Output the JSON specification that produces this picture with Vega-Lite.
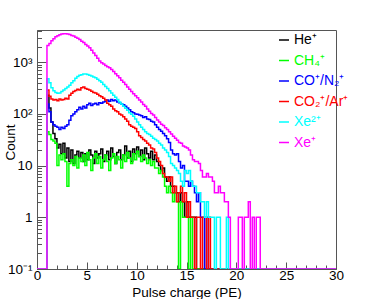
{
  "$schema": "https://vega.github.io/schema/vega-lite/v6.json",
  "width": 299,
  "height": 239,
  "autosize": {"type": "none"},
  "padding": {"left": 37, "top": 30, "right": 38, "bottom": 30},
  "background": "white",
  "config": {"font": "Liberation Sans", "view": {"stroke": "#555", "strokeWidth": 1}},
  "data": {"values": [
    {"x":0,"He":0.1,"CH4":0.1,"CO":0.1,"CO2":0.1,"Xe2":0.1,"Xe":0.1},
    {"x":1.0,"He":230,"CH4":45,"CO":155,"CO2":290,"Xe2":480,"Xe":2100},
    {"x":1.2,"He":130,"CH4":40,"CO":110,"CO2":220,"Xe2":400,"Xe":2300},
    {"x":1.4,"He":70,"CH4":32,"CO":70,"CO2":195,"Xe2":320,"Xe":2600},
    {"x":1.6,"He":42,"CH4":30,"CO":62,"CO2":185,"Xe2":280,"Xe":2850},
    {"x":1.8,"He":33,"CH4":27,"CO":58,"CO2":190,"Xe2":260,"Xe":3100},
    {"x":2.0,"He":22,"CH4":10,"CO":55,"CO2":180,"Xe2":250,"Xe":3250},
    {"x":2.2,"He":26,"CH4":16,"CO":50,"CO2":195,"Xe2":255,"Xe":3400},
    {"x":2.4,"He":17,"CH4":13,"CO":55,"CO2":185,"Xe2":270,"Xe":3500},
    {"x":2.6,"He":27,"CH4":17,"CO":52,"CO2":190,"Xe2":290,"Xe":3550},
    {"x":2.8,"He":14,"CH4":12,"CO":58,"CO2":200,"Xe2":310,"Xe":3550},
    {"x":3.0,"He":22,"CH4":4,"CO":62,"CO2":195,"Xe2":330,"Xe":3500},
    {"x":3.2,"He":12,"CH4":11,"CO":75,"CO2":230,"Xe2":360,"Xe":3450},
    {"x":3.4,"He":20,"CH4":13,"CO":92,"CO2":250,"Xe2":400,"Xe":3300},
    {"x":3.6,"He":11,"CH4":10,"CO":100,"CO2":270,"Xe2":440,"Xe":3200},
    {"x":3.8,"He":16,"CH4":15,"CO":110,"CO2":285,"Xe2":490,"Xe":3050},
    {"x":4.0,"He":19,"CH4":9,"CO":120,"CO2":300,"Xe2":530,"Xe":2900},
    {"x":4.2,"He":14,"CH4":14,"CO":135,"CO2":290,"Xe2":560,"Xe":2750},
    {"x":4.4,"He":18,"CH4":12,"CO":125,"CO2":320,"Xe2":575,"Xe":2550},
    {"x":4.6,"He":12,"CH4":16,"CO":140,"CO2":330,"Xe2":590,"Xe":2400},
    {"x":4.8,"He":17,"CH4":10,"CO":130,"CO2":310,"Xe2":590,"Xe":2200},
    {"x":5.0,"He":13,"CH4":18,"CO":150,"CO2":300,"Xe2":580,"Xe":2050},
    {"x":5.2,"He":20,"CH4":13,"CO":160,"CO2":290,"Xe2":560,"Xe":1900},
    {"x":5.4,"He":16,"CH4":8,"CO":145,"CO2":275,"Xe2":540,"Xe":1700},
    {"x":5.6,"He":11,"CH4":14,"CO":155,"CO2":260,"Xe2":520,"Xe":1500},
    {"x":5.8,"He":19,"CH4":17,"CO":160,"CO2":255,"Xe2":500,"Xe":1350},
    {"x":6.0,"He":14,"CH4":11,"CO":150,"CO2":240,"Xe2":470,"Xe":1200},
    {"x":6.2,"He":17,"CH4":15,"CO":165,"CO2":225,"Xe2":440,"Xe":1060},
    {"x":6.4,"He":21,"CH4":9,"CO":160,"CO2":215,"Xe2":410,"Xe":980},
    {"x":6.6,"He":12,"CH4":13,"CO":170,"CO2":200,"Xe2":370,"Xe":920},
    {"x":6.8,"He":16,"CH4":16,"CO":175,"CO2":185,"Xe2":340,"Xe":860},
    {"x":7.0,"He":19,"CH4":12,"CO":185,"CO2":160,"Xe2":310,"Xe":820},
    {"x":7.2,"He":13,"CH4":8,"CO":175,"CO2":150,"Xe2":280,"Xe":780},
    {"x":7.4,"He":22,"CH4":14,"CO":190,"CO2":140,"Xe2":255,"Xe":720},
    {"x":7.6,"He":15,"CH4":17,"CO":180,"CO2":125,"Xe2":230,"Xe":660},
    {"x":7.8,"He":11,"CH4":11,"CO":185,"CO2":115,"Xe2":210,"Xe":600},
    {"x":8.0,"He":18,"CH4":15,"CO":170,"CO2":110,"Xe2":190,"Xe":550},
    {"x":8.2,"He":20,"CH4":13,"CO":165,"CO2":100,"Xe2":170,"Xe":500},
    {"x":8.4,"He":13,"CH4":9,"CO":155,"CO2":95,"Xe2":155,"Xe":450},
    {"x":8.6,"He":16,"CH4":16,"CO":150,"CO2":88,"Xe2":140,"Xe":410},
    {"x":8.8,"He":24,"CH4":12,"CO":140,"CO2":80,"Xe2":128,"Xe":370},
    {"x":9.0,"He":14,"CH4":18,"CO":130,"CO2":72,"Xe2":118,"Xe":330},
    {"x":9.2,"He":19,"CH4":14,"CO":120,"CO2":62,"Xe2":105,"Xe":300},
    {"x":9.4,"He":12,"CH4":11,"CO":110,"CO2":58,"Xe2":98,"Xe":270},
    {"x":9.6,"He":21,"CH4":17,"CO":105,"CO2":55,"Xe2":90,"Xe":245},
    {"x":9.8,"He":17,"CH4":13,"CO":100,"CO2":52,"Xe2":80,"Xe":225},
    {"x":10.0,"He":23,"CH4":19,"CO":98,"CO2":45,"Xe2":70,"Xe":205},
    {"x":10.2,"He":15,"CH4":15,"CO":95,"CO2":38,"Xe2":62,"Xe":185},
    {"x":10.4,"He":20,"CH4":12,"CO":92,"CO2":35,"Xe2":55,"Xe":170},
    {"x":10.6,"He":13,"CH4":16,"CO":85,"CO2":32,"Xe2":50,"Xe":152},
    {"x":10.8,"He":22,"CH4":14,"CO":88,"CO2":30,"Xe2":45,"Xe":140},
    {"x":11.0,"He":17,"CH4":11,"CO":80,"CO2":27,"Xe2":42,"Xe":125},
    {"x":11.2,"He":14,"CH4":13,"CO":78,"CO2":25,"Xe2":40,"Xe":112},
    {"x":11.4,"He":19,"CH4":10,"CO":72,"CO2":22,"Xe2":37,"Xe":102},
    {"x":11.6,"He":13,"CH4":12,"CO":70,"CO2":21,"Xe2":34,"Xe":95},
    {"x":11.8,"He":16,"CH4":9,"CO":62,"CO2":18,"Xe2":32,"Xe":85},
    {"x":12.0,"He":12,"CH4":9,"CO":55,"CO2":14,"Xe2":30,"Xe":76},
    {"x":12.2,"He":10,"CH4":7,"CO":50,"CO2":12,"Xe2":27,"Xe":70},
    {"x":12.4,"He":8,"CH4":8,"CO":46,"CO2":10,"Xe2":25,"Xe":63},
    {"x":12.6,"He":9,"CH4":6,"CO":42,"CO2":7,"Xe2":22,"Xe":60},
    {"x":12.8,"He":6,"CH4":4,"CO":38,"CO2":6,"Xe2":20,"Xe":54},
    {"x":13.0,"He":5,"CH4":3,"CO":33,"CO2":6,"Xe2":18,"Xe":50},
    {"x":13.2,"He":6,"CH4":4,"CO":28,"CO2":5,"Xe2":15,"Xe":45},
    {"x":13.4,"He":4,"CH4":3,"CO":20,"CO2":6,"Xe2":11,"Xe":41},
    {"x":13.6,"He":4,"CH4":2,"CO":17,"CO2":3,"Xe2":10,"Xe":37},
    {"x":13.8,"He":3,"CH4":3,"CO":16,"CO2":4,"Xe2":9,"Xe":34},
    {"x":14.0,"He":3,"CH4":2,"CO":17,"CO2":2,"Xe2":8,"Xe":31},
    {"x":14.2,"He":2,"CH4":0.1,"CO":12,"CO2":3,"Xe2":7,"Xe":28},
    {"x":14.4,"He":3,"CH4":2,"CO":9,"CO2":4,"Xe2":5,"Xe":27},
    {"x":14.6,"He":2,"CH4":1,"CO":10,"CO2":2,"Xe2":4,"Xe":24},
    {"x":14.8,"He":1,"CH4":1,"CO":5,"CO2":3,"Xe2":8,"Xe":23},
    {"x":15.0,"He":2,"CH4":1,"CO":5,"CO2":1,"Xe2":7,"Xe":22},
    {"x":15.2,"He":1,"CH4":0.1,"CO":4,"CO2":2,"Xe2":8,"Xe":20},
    {"x":15.4,"He":1,"CH4":1,"CO":5,"CO2":1,"Xe2":5,"Xe":16},
    {"x":15.6,"He":1,"CH4":0.1,"CO":4,"CO2":1,"Xe2":4,"Xe":13},
    {"x":15.8,"He":1,"CH4":0.1,"CO":3,"CO2":0.1,"Xe2":4,"Xe":12},
    {"x":16.0,"He":0.1,"CH4":0.1,"CO":2,"CO2":1,"Xe2":3,"Xe":12},
    {"x":16.2,"He":0.1,"CH4":0.1,"CO":3,"CO2":1,"Xe2":3,"Xe":11},
    {"x":16.4,"He":0.1,"CH4":0.1,"CO":1,"CO2":0.1,"Xe2":2,"Xe":8},
    {"x":16.6,"He":0.1,"CH4":0.1,"CO":1,"CO2":1,"Xe2":2,"Xe":6},
    {"x":16.8,"He":0.1,"CH4":0.1,"CO":0.1,"CO2":1,"Xe2":1,"Xe":6},
    {"x":17.0,"He":0.1,"CH4":0.1,"CO":1,"CO2":0.1,"Xe2":2,"Xe":7},
    {"x":17.2,"He":0.1,"CH4":0.1,"CO":0.1,"CO2":1,"Xe2":1,"Xe":6},
    {"x":17.4,"He":0.1,"CH4":0.1,"CO":0.1,"CO2":0.1,"Xe2":1,"Xe":6},
    {"x":17.6,"He":0.1,"CH4":0.1,"CO":0.1,"CO2":0.1,"Xe2":1,"Xe":5},
    {"x":17.8,"He":0.1,"CH4":0.1,"CO":0.1,"CO2":0.1,"Xe2":0.1,"Xe":3},
    {"x":18.0,"He":0.1,"CH4":0.1,"CO":0.1,"CO2":0.1,"Xe2":1,"Xe":3},
    {"x":18.2,"He":0.1,"CH4":0.1,"CO":0.1,"CO2":0.1,"Xe2":1,"Xe":4},
    {"x":18.4,"He":0.1,"CH4":0.1,"CO":0.1,"CO2":0.1,"Xe2":0.1,"Xe":3},
    {"x":18.6,"He":0.1,"CH4":0.1,"CO":0.1,"CO2":0.1,"Xe2":0.1,"Xe":3},
    {"x":18.8,"He":0.1,"CH4":0.1,"CO":0.1,"CO2":0.1,"Xe2":0.1,"Xe":2},
    {"x":19.0,"He":0.1,"CH4":0.1,"CO":0.1,"CO2":0.1,"Xe2":1,"Xe":2},
    {"x":19.2,"He":0.1,"CH4":0.1,"CO":0.1,"CO2":0.1,"Xe2":0.1,"Xe":1},
    {"x":19.4,"He":0.1,"CH4":0.1,"CO":0.1,"CO2":0.1,"Xe2":0.1,"Xe":0.1},
    {"x":20.2,"He":0.1,"CH4":0.1,"CO":0.1,"CO2":0.1,"Xe2":0.1,"Xe":1},
    {"x":20.4,"He":0.1,"CH4":0.1,"CO":0.1,"CO2":0.1,"Xe2":0.1,"Xe":1},
    {"x":20.6,"He":0.1,"CH4":0.1,"CO":0.1,"CO2":0.1,"Xe2":0.1,"Xe":0.1},
    {"x":20.8,"He":0.1,"CH4":0.1,"CO":0.1,"CO2":0.1,"Xe2":0.1,"Xe":1},
    {"x":21.0,"He":0.1,"CH4":0.1,"CO":0.1,"CO2":0.1,"Xe2":0.1,"Xe":1},
    {"x":21.2,"He":0.1,"CH4":0.1,"CO":0.1,"CO2":0.1,"Xe2":0.1,"Xe":2},
    {"x":21.4,"He":0.1,"CH4":0.1,"CO":0.1,"CO2":0.1,"Xe2":0.1,"Xe":0.1},
    {"x":21.6,"He":0.1,"CH4":0.1,"CO":0.1,"CO2":0.1,"Xe2":0.1,"Xe":1},
    {"x":21.8,"He":0.1,"CH4":0.1,"CO":0.1,"CO2":0.1,"Xe2":0.1,"Xe":0.1},
    {"x":22.0,"He":0.1,"CH4":0.1,"CO":0.1,"CO2":0.1,"Xe2":0.1,"Xe":1},
    {"x":22.2,"He":0.1,"CH4":0.1,"CO":0.1,"CO2":0.1,"Xe2":0.1,"Xe":1},
    {"x":22.4,"He":0.1,"CH4":0.1,"CO":0.1,"CO2":0.1,"Xe2":0.1,"Xe":0.1},
    {"x":30,"He":0.1,"CH4":0.1,"CO":0.1,"CO2":0.1,"Xe2":0.1,"Xe":0.1}
  ]},
  "transform": [{"fold": ["He","CH4","CO","CO2","Xe2","Xe"], "as": ["ion","count"]}],
  "mark": {"type": "line", "interpolate": "step-after", "strokeWidth": 1.5, "clip": true},
  "encoding": {
    "x": {
      "field": "x", "type": "quantitative",
      "scale": {"domain": [0, 30], "nice": false, "zero": false},
      "axis": {
        "title": "Pulse charge (PE)",
        "values": [0,1,2,3,4,5,6,7,8,9,10,11,12,13,14,15,16,17,18,19,20,21,22,23,24,25,26,27,28,29,30],
        "labelExpr": "datum.value % 5 == 0 ? datum.label : ''",
        "tickSize": {"condition": {"test": "datum.value % 5 == 0", "value": -7}, "value": -4},
        "labelPadding": 6,
        "labelFontSize": 13.5,
        "labelColor": "black",
        "labelOverlap": false,
        "labelFlush": false,
        "titleFontSize": 13.5,
        "titleFontWeight": "normal",
        "titleColor": "black",
        "titleY": 23,
        "titleBaseline": "middle",
        "domainColor": "#555",
        "tickColor": "#555",
        "grid": false
      }
    },
    "y": {
      "field": "count", "type": "quantitative",
      "scale": {"type": "log", "domain": [0.1, 4200], "nice": false},
      "axis": {
        "title": "Count",
        "values": [0.1,0.2,0.3,0.4,0.5,0.6,0.7,0.8,0.9,1,2,3,4,5,6,7,8,9,10,20,30,40,50,60,70,80,90,100,200,300,400,500,600,700,800,900,1000,2000,3000,4000],
        "labelExpr": "datum.value == 0.1 ? '10⁻¹' : datum.value == 1 ? '1' : datum.value == 10 ? '10' : datum.value == 100 ? '10²' : datum.value == 1000 ? '10³' : ''",
        "tickSize": {"condition": {"test": "indexof([0.1, 1, 10, 100, 1000], datum.value) >= 0", "value": -9}, "value": -4.5},
        "labelPadding": 14,
        "labelFontSize": 13.5,
        "labelColor": "black",
        "labelOverlap": false,
        "labelFlush": false,
        "titleFontSize": 13.5,
        "titleFontWeight": "normal",
        "titleColor": "black",
        "titleX": -27,
        "titleY": 112,
        "titleBaseline": "middle",
        "domainColor": "#555",
        "tickColor": "#555",
        "grid": false
      }
    },
    "color": {
      "field": "ion", "type": "nominal",
      "scale": {"domain": ["He","CH4","CO","CO2","Xe2","Xe"], "range": ["#000000","#00ff00","#0000ff","#ff0000","#00ffff","#ff00ff"]},
      "legend": {
        "orient": "none",
        "legendX": 240,
        "legendY": 3,
        "title": null,
        "symbolType": "stroke",
        "symbolSize": 100,
        "symbolStrokeWidth": 1.5,
        "labelFontSize": 14,
        "labelOffset": 3,
        "rowPadding": 6.5,
        "padding": 0,
        "labelExpr": "datum.label == 'He' ? 'He⁺' : datum.label == 'CH4' ? 'CH₄⁺' : datum.label == 'CO' ? 'CO⁺/N₂⁺' : datum.label == 'CO2' ? 'CO₂⁺/Ar⁺' : datum.label == 'Xe2' ? 'Xe²⁺' : 'Xe⁺'",
        "encode": {"labels": {"update": {"fill": {"scale": "color", "field": "value"}}}}
      }
    }
  }
}
